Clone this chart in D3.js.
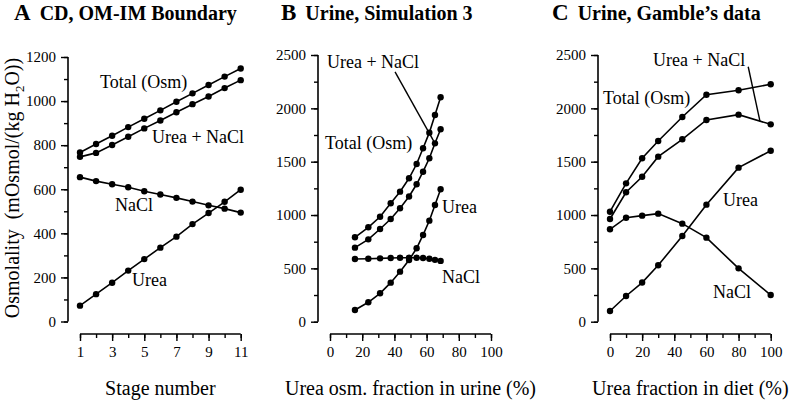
<!DOCTYPE html>
<html><head><meta charset="utf-8">
<script src="https://cdn.jsdelivr.net/npm/d3@7"></script>
<style>
html,body{margin:0;padding:0;background:#fff;}
svg text{font-family:"Liberation Serif","Times New Roman",serif !important;fill:#000;}
</style></head>
<body><svg id="chart" width="796" height="400"></svg>
<script>
// ---- Panel A data ----
const stageA = [1,2,3,4,5,6,7,8,9,10,11];
const totalA = [767,805,843,882,920,958,997,1035,1073,1111,1148];
const ureaNaclA = [747,765,801,838,876,912,949,986,1021,1059,1095];
const naclA = [655,637,623,609,591,576,561,544,527,512,494];
const ureaA = [72,124,176,231,283,335,385,442,492,543,598];
const yTicksA = [0,200,400,600,800,1000,1200];
const xTicksA = [1,3,5,7,9,11];

// ---- Panel B data ----
const fracB = [15.5,23.8,31.1,37.7,43.5,49.1,53.8,57.8,61.7,65.2,68.7];
const totalB = [791,885,984,1110,1219,1344,1478,1626,1772,1938,2104];
const ureaNaclB = [694,772,869,963,1063,1174,1288,1406,1532,1672,1804];
const ureaB = [110,182,266,366,469,578,688,813,947,1094,1241];
const naclB = [588,590,594,597,600,600,600,597,590,580,570];
const yTicksBC = [0,500,1000,1500,2000,2500];
const xTicksBC = [0,20,40,60,80,100];

// ---- Panel C data ----
const dietC = [0,10,20,30,45,60,80,100];
const totalC = [1031,1297,1532,1694,1919,2128,2169,2226];
const ureaNaclC = [963,1213,1359,1547,1710,1891,1941,1850];
const naclC = [866,975,994,1013,919,788,500,250];
const ureaC = [100,241,367,529,803,1097,1444,1603];

const svg = d3.select("#chart");
const SERIF = '"Liberation Serif","Times New Roman",serif';

function panel(cfg){
  const g = svg.append("g");
  const x = d3.scaleLinear().domain(cfg.xDomain).range(cfg.xRange);
  const y = d3.scaleLinear().domain(cfg.yDomain).range(cfg.yRange);

  const yMinor = d3.axisLeft(y).tickValues(d3.range(cfg.yDomain[0], cfg.yDomain[1]+1, cfg.yMinor))
      .tickSize(4).tickFormat("");
  const yMajor = d3.axisLeft(y).tickValues(cfg.yTicks).tickSize(7).tickPadding(5).tickFormat(d3.format("d"));
  const ga1 = g.append("g").attr("transform",`translate(${cfg.yAxisX},0)`).call(yMinor);
  const ga2 = g.append("g").attr("transform",`translate(${cfg.yAxisX},0)`).call(yMajor);
  const xMinor = d3.axisBottom(x).tickValues(d3.range(cfg.xDomain[0], cfg.xDomain[1]+0.001, cfg.xMinor))
      .tickSize(4).tickFormat("");
  const xMajor = d3.axisBottom(x).tickValues(cfg.xTicks).tickSize(7).tickPadding(5).tickFormat(d3.format("d"));
  const gb1 = g.append("g").attr("transform",`translate(0,${cfg.xAxisY})`).call(xMinor);
  const gb2 = g.append("g").attr("transform",`translate(0,${cfg.xAxisY})`).call(xMajor);
  [ga1,ga2,gb1,gb2].forEach(a=>{
    a.attr("font-family",SERIF);
    a.selectAll("path.domain").attr("stroke","#000").attr("stroke-width",1.6);
    a.selectAll("line").attr("stroke","#000").attr("stroke-width",1.4);
    a.selectAll("text").style("font-size","15px").attr("fill","#000");
  });
  ga2.selectAll("path.domain").remove(); gb2.selectAll("path.domain").remove();
  ga1.selectAll("path.domain").attr("d",`M0,${y.range()[0]}V${y.range()[1]}`);
  gb1.selectAll("path.domain").attr("d",`M${x.range()[0]},0H${x.range()[1]}`);

  const line = d3.line().x(d=>x(d[0])).y(d=>y(d[1]));
  cfg.series.forEach(s=>{
    const pts = cfg.xs.map((v,i)=>[v,s[i]]);
    g.append("path").attr("d",line(pts)).attr("fill","none").attr("stroke","#000").attr("stroke-width",1.6);
    g.selectAll(null).data(pts).enter().append("circle")
      .attr("cx",d=>x(d[0])).attr("cy",d=>y(d[1])).attr("r",3.2).attr("fill","#000");
  });
  (cfg.leaders||[]).forEach(l=>{
    g.append("line").attr("x1",x(l[0][0])).attr("y1",y(l[0][1])).attr("x2",x(l[1][0])).attr("y2",y(l[1][1]))
      .attr("stroke","#000").attr("stroke-width",1.4);
  });
  cfg.labels.forEach(l=>{
    g.append("text").attr("x",x(l.x)).attr("y",y(l.y)).style("font-size","18px").text(l.t);
  });
  g.append("text").attr("x",(cfg.xRange[0]+cfg.xRange[1])/2).attr("y",395)
    .attr("text-anchor","middle").style("font-size","20px").text(cfg.xTitle);
  const t = g.append("text").attr("x",cfg.titleX).attr("y",20).style("font-weight","bold");
  t.append("tspan").style("font-size","23px").text(cfg.letter);
  t.append("tspan").attr("dx",9).style("font-size","20px").text(cfg.title);
  return g;
}

panel({
  xDomain:[1,11], xRange:[80,240.7], yDomain:[0,1200], yRange:[321.5,57],
  yAxisX:68, xAxisY:334, yTicks:yTicksA, yMinor:100, xTicks:xTicksA, xMinor:1,
  xs:stageA, series:[totalA,ureaNaclA,naclA,ureaA],
  labels:[{x:2.24,y:1059,t:"Total (Osm)"},{x:5.48,y:810,t:"Urea + NaCl"},
          {x:3.18,y:501,t:"NaCl"},{x:4.24,y:161,t:"Urea"}],
  xTitle:"Stage number", letter:"A", title:"CD, OM-IM Boundary", titleX:14
});
panel({
  xDomain:[0,100], xRange:[330,491], yDomain:[0,2500], yRange:[321.7,55],
  yAxisX:318, xAxisY:334, yTicks:yTicksBC, yMinor:250, xTicks:xTicksBC, xMinor:10,
  xs:fracB, series:[totalB,ureaNaclB,ureaB,naclB],
  leaders:[[[40.4,2341],[65.2,1672]]],
  labels:[{x:-1.9,y:2378,t:"Urea + NaCl"},{x:-3.1,y:1619,t:"Total (Osm)"},
          {x:69.6,y:1017,t:"Urea"},{x:69.6,y:363,t:"NaCl"}],
  xTitle:"Urea osm. fraction in urine (%)", letter:"B", title:"Urine, Simulation 3", titleX:281
});
panel({
  xDomain:[0,100], xRange:[610,770.7], yDomain:[0,2500], yRange:[321.7,55],
  yAxisX:598, xAxisY:334, yTicks:yTicksBC, yMinor:250, xTicks:xTicksBC, xMinor:10,
  xs:dietC, series:[totalC,ureaNaclC,naclC,ureaC],
  leaders:[[[86,2390],[93.3,1880]]],
  labels:[{x:26.8,y:2396,t:"Urea + NaCl"},{x:-4.4,y:2041,t:"Total (Osm)"},
          {x:70.3,y:1085,t:"Urea"},{x:64.1,y:222,t:"NaCl"}],
  xTitle:"Urea fraction in diet (%)", letter:"C", title:"Urine, Gamble’s data", titleX:552
});

const yt = svg.append("text").attr("transform","translate(19,188) rotate(-90)")
  .attr("text-anchor","middle").style("font-size","20px");
yt.append("tspan").text("Osmolality\u00a0\u00a0(mOsmol/(kg H");
yt.append("tspan").attr("dy",5).style("font-size","13px").text("2");
yt.append("tspan").attr("dy",-5).text("O))");
</script></body></html>
